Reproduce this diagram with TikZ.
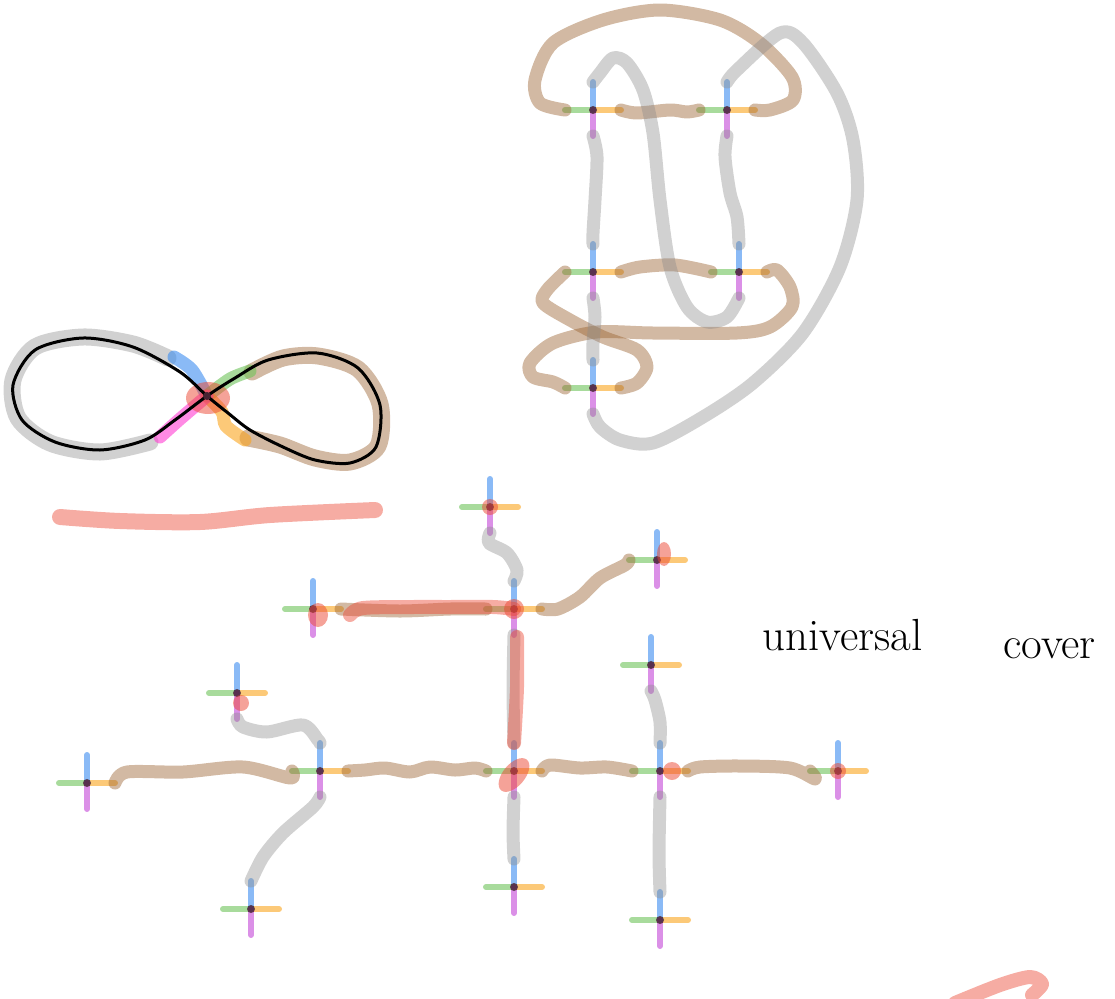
\documentclass[tikz,border=0pt]{standalone}
\usepackage{tikz}

\definecolor{edgegrey}{RGB}{140,140,140}
\definecolor{edgebrown}{RGB}{155,100,50}
\definecolor{pathred}{RGB}{235,70,50}
\definecolor{armblue}{RGB}{60,140,240}
\definecolor{armgreen}{RGB}{110,195,90}
\definecolor{armorange}{RGB}{250,165,30}
\definecolor{armpurple}{RGB}{195,70,215}
\definecolor{armpink}{RGB}{255,60,210}
\definecolor{dotdark}{RGB}{70,35,50}

\tikzset{
  greyedge/.style={draw=edgegrey, draw opacity=0.4, line width=13pt, line cap=round, line join=round},
  brownedge/.style={draw=edgebrown, draw opacity=0.45, line width=13pt, line cap=round, line join=round},
  redpath/.style={draw=pathred, draw opacity=0.45, line width=14pt, line cap=round, line join=round},
  redblob/.style={fill=pathred, fill opacity=0.5},
  arm/.style={line width=6pt, line cap=round, draw opacity=0.6},
  handtext/.style={anchor=base west, inner sep=0pt, font=\fontsize{45}{50}\selectfont},
  vtxcross/.pic={
    \draw[arm, armgreen] (0,0) -- (-28,0) coordinate (-w);
    \draw[arm, armorange] (0,0) -- (28,0) coordinate (-e);
    \draw[arm, armblue] (0,0) -- (0,-28) coordinate (-n);
    \draw[arm, armpurple] (0,0) -- (0,26) coordinate (-s);
    \coordinate (-c) at (0,0);
    \fill[dotdark, fill opacity=0.8] (0,0) circle (4pt);
  }
}

\begin{document}
\begin{tikzpicture}[x=1pt, y=-1pt]
  \useasboundingbox (0,0) rectangle (1115,998);

  % figure eight
  \coordinate (x0) at (207,396);
  \draw[greyedge, line width=17pt] plot[smooth] coordinates {(168,358) (133,344) (83,337) (35,347) (13,380) (18,418) (50,443) (100,452) (150,442)};
  \draw[brownedge, line width=17pt] plot[smooth] coordinates {(252,372) (283,358) (318,356) (358,369) (380,404) (378,446) (350,462) (315,458) (280,445) (248,438)};
  \draw[arm, armblue, line width=13pt] plot[smooth] coordinates {(174,357) (192,370) (x0)};
  \draw[arm, armgreen, line width=13pt] plot[smooth] coordinates {(x0) (230,379) (250,371)};
  \draw[arm, armorange, line width=13pt] plot[smooth] coordinates {(x0) (222,412) (226,426) (245,440)};
  \draw[arm, armpink, line width=13pt] plot[smooth] coordinates {(x0) (180,419) (160,437)};
  \fill[redblob] (208,398) ellipse [x radius=22pt, y radius=16pt];
  \draw[line width=3pt] plot[smooth cycle] coordinates {(x0) (180,372) (133,347) (83,338) (35,350) (13,385) (22,420) (55,442) (100,450) (145,440) (175,420) (x0) (235,378) (268,360) (317,353) (358,368) (380,405) (376,447) (350,463) (315,460) (283,447) (250,430) (228,413)};
  \fill[dotdark] (x0) circle (4pt);

  \draw[redpath, line width=16pt] plot[smooth] coordinates {(60,517) (120,521) (200,522) (270,515) (375,510)};

  % top right
  \pic (t1) at (593,110) {vtxcross};
  \pic (t2) at (727,110) {vtxcross};
  \pic (t3) at (593,272) {vtxcross};
  \pic (t4) at (739,272) {vtxcross};
  \pic (t5) at (593,388) {vtxcross};

  \draw[brownedge] plot[smooth] coordinates {(t1-e) (637,113) (670,110) (687,112) (t2-w)};
  \draw[brownedge] plot[smooth] coordinates {(t2-e) (770,110) (793,100) (792,77) (760,43) (720,20) (660,10) (603,20) (553,43) (535,80) (540,103) (t1-w)};
  \draw[brownedge] plot[smooth] coordinates {(t3-e) (640,267) (675,265) (t4-w)};
  \draw[brownedge] plot[smooth] coordinates {(t4-e) (777,270) (790,287) (792,307) (770,327) (737,333) (653,333) (597,332) (553,343) (530,363) (533,377) (553,382) (t5-w)};
  \draw[brownedge] plot[smooth] coordinates {(t3-w) (547,290) (543,303) (570,320) (603,337) (637,350) (647,367) (637,383) (t5-e)};

  \draw[greyedge] plot[smooth] coordinates {(t1-s) (597,157) (595,200) (593,233) (t3-n)};
  \draw[greyedge] plot[smooth] coordinates {(t2-s) (725,157) (730,193) (737,217) (t4-n)};
  \draw[greyedge] plot[smooth] coordinates {(t3-s) (595,317) (593,343) (t5-n)};
  \draw[greyedge] plot[smooth] coordinates {(t1-n) (600,73) (613,58) (627,63) (643,90) (653,133) (660,200) (670,267) (687,307) (707,322) (727,317) (t4-s)};
  \draw[greyedge] plot[smooth] coordinates {(t2-n) (737,70) (780,33) (803,43) (837,93) (853,140) (857,200) (840,267) (803,333) (753,383) (703,417) (653,443) (620,440) (600,427) (t5-s)};

  % universal cover
  \pic (b1) at (490,507) {vtxcross};
  \pic (b2) at (657,560) {vtxcross};
  \pic (b3) at (313,609) {vtxcross};
  \pic (b4) at (514,609) {vtxcross};
  \pic (b5) at (237,693) {vtxcross};
  \pic (b6) at (651,665) {vtxcross};
  \pic (b7) at (87,783) {vtxcross};
  \pic (b8) at (320,771) {vtxcross};
  \pic (b9) at (514,771) {vtxcross};
  \pic (b10) at (660,771) {vtxcross};
  \pic (b11) at (838,771) {vtxcross};
  \pic (b12) at (251,909) {vtxcross};
  \pic (b13) at (514,887) {vtxcross};
  \pic (b14) at (660,920) {vtxcross};

  \draw[greyedge] plot[smooth] coordinates {(b1-s) (489,543) (507,553) (517,570) (b4-n)};
  \draw[greyedge] plot[smooth] coordinates {(b4-s) (513,690) (b9-n)};
  \draw[greyedge] plot[smooth] coordinates {(b9-s) (513,832) (b13-n)};
  \draw[greyedge] plot[smooth] coordinates {(b6-s) (655,700) (660,722) (b10-n)};
  \draw[greyedge] plot[smooth] coordinates {(b10-s) (659,853) (b14-n)};
  \draw[greyedge] plot[smooth] coordinates {(b5-s) (243,727) (267,732) (303,725) (318,740) (b8-n)};
  \draw[greyedge] plot[smooth] coordinates {(b8-s) (313,807) (283,833) (263,857) (b12-n)};

  \draw[brownedge] plot[smooth] coordinates {(b7-e) (127,772) (183,772) (243,767) (290,778) (b8-w)};
  \draw[brownedge] plot[smooth] coordinates {(b8-e) (365,770) (385,768) (410,772) (430,767) (455,770) (475,768) (b9-w)};
  \draw[brownedge] plot[smooth] coordinates {(b9-e) (550,765) (580,768) (607,767) (b10-w)};
  \draw[brownedge] plot[smooth] coordinates {(b10-e) (700,767) (740,766) (790,768) (815,779) (b11-w)};
  \draw[brownedge] plot[smooth] coordinates {(b3-e) (400,611) (450,609) (b4-w)};
  \draw[brownedge] plot[smooth] coordinates {(b4-e) (558,609) (580,597) (600,578) (625,565) (b2-w)};

  \draw[redpath] plot[smooth] coordinates {(350,615) (363,608) (413,607) (447,607) (493,607) (b4-c)};
  \draw[redpath] plot[smooth] coordinates {(517,637) (517,687) (b9-n)};
  \fill[redblob] (318,615) ellipse [x radius=10pt, y radius=12pt];
  \fill[redblob] (b4-c) circle (10pt);
  \fill[redblob, rotate around={50:(514,775)}] (514,775) ellipse [x radius=20pt, y radius=11pt];
  \fill[redblob] (672,771) circle (9pt);
  \fill[redblob] (b11-c) circle (8pt);
  \fill[redblob] (241,703) circle (8pt);
  \fill[redblob] (b1-c) circle (8pt);
  \fill[redblob] (664,554) ellipse [x radius=7pt, y radius=12pt];

  \node[handtext] (uni) at (762,650) {universal};
  \node[handtext] (cov) at (1003,658) {cover};

  \draw[redpath] plot[smooth] coordinates {(955,1003) (1000,985) (1030,977) (1042,984) (1032,995)};
\end{tikzpicture}
\end{document}
